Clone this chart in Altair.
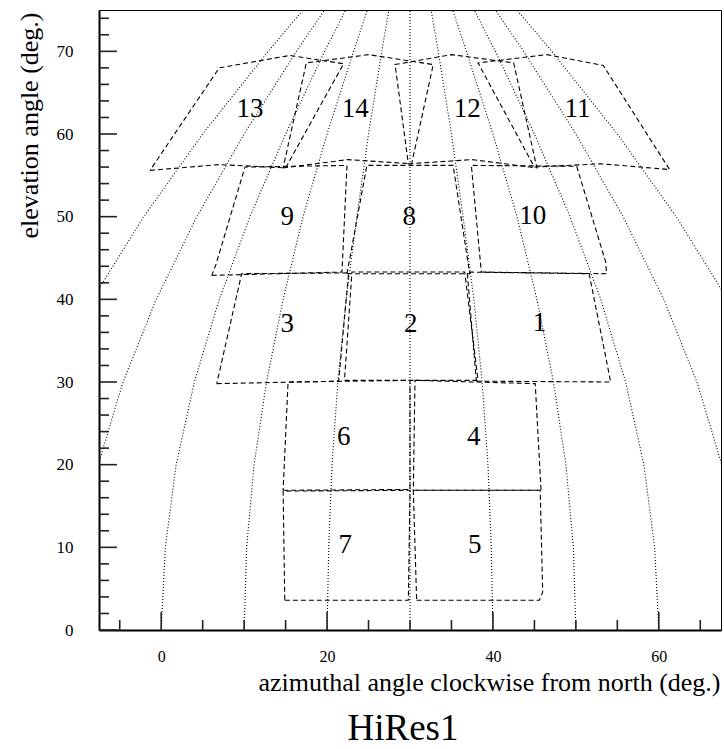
import altair as alt
import pandas as pd

# ---------------- axes ----------------
x_domain = [-7.5, 67.5]
y_domain = [0, 75]
x_label_values = [0, 20, 40, 60]
y_label_values = [0, 10, 20, 30, 40, 50, 60, 70]
x_major_ticks = [0, 20, 40, 60]
x_minor_ticks = [-5, 5, 10, 15, 25, 30, 35, 45, 50, 55, 65]
y_major_ticks = [0, 10, 20, 30, 40, 50, 60, 70]
y_minor_ticks = [2, 4, 6, 8, 12, 14, 16, 18, 22, 24, 26, 28, 32, 34, 36, 38,
                 42, 44, 46, 48, 52, 54, 56, 58, 62, 64, 66, 68, 72, 74]

# ---------------- dotted azimuth guide curves (az read at each elevation) ----------------
meridian_el = [0, 10, 20, 30, 40, 50, 60, 70, 80]
meridian_m20 = [-20.0, -19.2, -17.0, -13.3, -8.3, -2.1, 5.0, 12.9, 21.3]
meridian_m10 = [-10.0, -9.4, -7.6, -4.6, -0.6, 4.3, 10.0, 16.3, 23.1]
meridian_0 = [0.0, 0.5, 1.8, 4.0, 7.0, 10.7, 15.0, 19.7, 24.8]
meridian_10 = [10.0, 10.3, 11.2, 12.7, 14.7, 17.1, 20.0, 23.2, 26.5]
meridian_20 = [20.0, 20.2, 20.6, 21.3, 22.3, 23.6, 25.0, 26.6, 28.3]
meridian_30 = [30.0, 30.0, 30.0, 30.0, 30.0, 30.0, 30.0, 30.0, 30.0]
meridian_40 = [40.0, 39.8, 39.4, 38.7, 37.7, 36.4, 35.0, 33.4, 31.7]
meridian_50 = [50.0, 49.7, 48.8, 47.3, 45.3, 42.9, 40.0, 36.8, 33.5]
meridian_60 = [60.0, 59.5, 58.2, 56.0, 53.0, 49.3, 45.0, 40.3, 35.2]
meridian_70 = [70.0, 69.4, 67.6, 64.6, 60.6, 55.7, 50.0, 43.7, 36.9]
meridian_80 = [80.0, 79.2, 77.0, 73.3, 68.3, 62.1, 55.0, 47.1, 38.7]

# ---------------- mirror fields of view (az, el) outlines ----------------
mirror_1 = [(38.0, 30.1), (54.2, 30.0), (51.6, 43.1), (36.9, 43.3)]
mirror_2 = [(22.1, 30.2), (38.2, 30.2), (36.6, 43.3), (23.0, 43.3)]
mirror_3 = [(6.7, 29.8), (21.4, 30.1), (22.6, 43.2), (9.7, 43.1)]
mirror_4 = [(30.4, 16.9), (45.8, 16.9), (45.1, 29.8), (30.6, 30.2)]
mirror_5 = [(30.8, 3.6), (45.6, 3.6), (46.0, 4.6), (45.7, 16.9), (30.4, 16.9)]
mirror_6 = [(14.7, 16.9), (30.0, 17.0), (30.0, 30.2), (15.3, 30.0)]
mirror_7 = [(14.9, 3.6), (29.8, 3.6), (30.0, 16.9), (14.7, 16.8)]
mirror_8 = [(22.4, 43.1), (37.2, 43.1), (35.2, 56.2), (24.8, 56.2)]
mirror_9 = [(6.1, 42.9), (21.8, 43.3), (22.4, 56.2), (10.1, 56.0), (6.6, 44.2)]
mirror_10 = [(38.6, 43.3), (53.7, 43.1), (53.6, 44.5), (50.1, 56.1), (37.4, 56.2)]
mirror_11 = [(45.0, 56.0), (53.0, 56.4), (61.3, 55.7), (53.3, 68.3), (46.5, 69.6), (38.2, 68.6)]
mirror_12 = [(29.8, 56.4), (37.5, 56.9), (45.3, 55.9), (42.5, 68.6), (35.0, 69.6), (28.2, 68.4)]
mirror_13 = [(-1.35, 55.6), (7.0, 56.3), (15.0, 55.9), (22.0, 68.5), (15.5, 69.5), (7.0, 68.0)]
mirror_14 = [(14.7, 55.9), (22.5, 56.9), (30.2, 56.4), (32.8, 68.4), (25.0, 69.6), (17.5, 68.6)]

# ---------------- mirror number labels ----------------
label_text = ["1", "2", "3", "4", "5", "6", "7", "8", "9", "10", "11", "12", "13", "14"]
label_az = [45.6, 30.1, 15.2, 37.7, 37.8, 22.0, 22.2, 29.9, 15.2, 44.8, 50.2, 36.9, 10.7, 23.4]
label_el = [37.1, 37.0, 37.0, 23.3, 10.3, 23.3, 10.3, 49.9, 49.9, 50.1, 63.0, 63.0, 63.0, 63.0]

# ---------------- build tables ----------------
meridians = [meridian_m20, meridian_m10, meridian_0, meridian_10, meridian_20, meridian_30,
             meridian_40, meridian_50, meridian_60, meridian_70, meridian_80]
grid_rows = []
for j, m in enumerate(meridians):
    for k, (a, e) in enumerate(zip(m, meridian_el)):
        grid_rows.append({"line": j, "k": k, "az": a, "el": e})
grid_df = pd.DataFrame(grid_rows)

mirrors = [mirror_1, mirror_2, mirror_3, mirror_4, mirror_5, mirror_6, mirror_7,
           mirror_8, mirror_9, mirror_10, mirror_11, mirror_12, mirror_13, mirror_14]
mirror_rows = []
for j, poly in enumerate(mirrors):
    pts = poly + [poly[0]]
    for k, (a, e) in enumerate(pts):
        mirror_rows.append({"mirror": j + 1, "k": k, "az": a, "el": e})
mirror_df = pd.DataFrame(mirror_rows)

label_df = pd.DataFrame({"text": label_text, "az": label_az, "el": label_el})

FONT = "Liberation Serif"
xscale = alt.Scale(domain=x_domain, nice=False, zero=False)
yscale = alt.Scale(domain=y_domain, nice=False, zero=False)

x_axis = alt.Axis(values=x_label_values, ticks=False, tickSize=0, grid=False,
                  domainColor="black", domainWidth=2, labelFlush=False,
                  labelFont=FONT, labelFontSize=16, labelColor="black", labelPadding=18,
                  title="azimuthal angle clockwise from north (deg.)",
                  titleFont=FONT, titleFontSize=26, titleFontWeight="normal", titleColor="black",
                  titleX=621, titleY=60, titleAlign="right", titleBaseline="alphabetic")
y_axis = alt.Axis(values=y_label_values, ticks=False, tickSize=0, grid=False,
                  domainColor="black", domainWidth=2, labelFlush=False,
                  labelFont=FONT, labelFontSize=17, labelColor="black", labelPadding=26,
                  title="elevation angle (deg.)",
                  titleFont=FONT, titleFontSize=26, titleFontWeight="normal", titleColor="black",
                  titleAngle=270, titleX=-62, titleY=2, titleAlign="right",
                  titleBaseline="alphabetic")


def X():
    return alt.X("az:Q", scale=xscale, axis=x_axis)


def Y():
    return alt.Y("el:Q", scale=yscale, axis=y_axis)


grid = alt.Chart(grid_df).mark_line(
    color="black", strokeWidth=1.1, strokeDash=[1, 2], clip=True
).encode(x=X(), y=Y(), detail="line:N", order="k:Q")

fov = alt.Chart(mirror_df).mark_line(
    color="black", strokeWidth=1.1, strokeDash=[5, 3], clip=True
).encode(x=X(), y=Y(), detail="mirror:N", order="k:Q")

labels = alt.Chart(label_df).mark_text(
    font=FONT, fontSize=27, color="black", align="center", baseline="middle"
).encode(x=X(), y=Y(), text="text:N")

y_major = alt.Chart(pd.DataFrame({"el": y_major_ticks})).mark_rule(color="#222", strokeWidth=1.6).encode(
    y=Y(), x=alt.value(0), x2=alt.value(18))
y_minor = alt.Chart(pd.DataFrame({"el": y_minor_ticks})).mark_rule(color="#222", strokeWidth=1.6).encode(
    y=Y(), x=alt.value(0), x2=alt.value(10))
x_major = alt.Chart(pd.DataFrame({"az": x_major_ticks})).mark_rule(color="#222", strokeWidth=1.6).encode(
    x=X(), y=alt.value(620), y2=alt.value(602))
x_minor = alt.Chart(pd.DataFrame({"az": x_minor_ticks})).mark_rule(color="#222", strokeWidth=1.6).encode(
    x=X(), y=alt.value(620), y2=alt.value(610))

chart = alt.layer(grid, fov, labels, y_major, y_minor, x_major, x_minor).properties(
    width=622, height=620,
    padding={"left": 99, "top": 10, "right": 3, "bottom": 119},
    autosize=alt.AutoSizeParams(type="none"),
    title=alt.TitleParams("HiRes1", orient="bottom", frame="group", anchor="middle",
                          baseline="top", offset=16, dx=-7, font=FONT, fontSize=37,
                          fontWeight="normal", color="black"),
).configure_view(stroke="black", strokeWidth=1)

chart.save("out.html", embed_options={"renderer": "svg", "actions": False})
